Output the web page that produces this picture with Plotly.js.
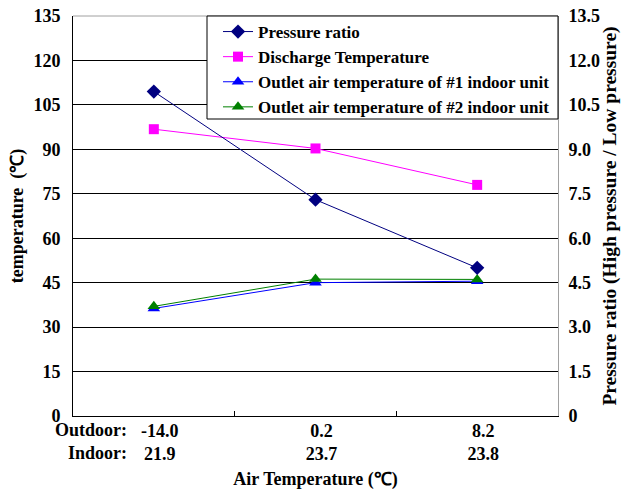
<!DOCTYPE html>
<html>
<head>
<meta charset="utf-8">
<script src="https://cdn.plot.ly/plotly-3.0.1.min.js"></script>
<style>
  html, body { margin: 0; padding: 0; background: #fff; }
  #chart { width: 621px; height: 490px; }
</style>
</head>
<body>
<div id="chart"></div>
<script>
// Test conditions (category axis): outdoor / indoor air temperature
const outdoorTemps = ['-14.0', '0.2', '8.2'];
const indoorTemps = ['21.9', '23.7', '23.8'];
const rowLabels = ['Outdoor:', 'Indoor:'];

// Measured series
const pressureRatio = [10.95, 7.3, 5.0];          // right axis
const dischargeTemp = [96.8, 90.3, 78.0];         // left axis, °C
const outletUnit1 = [36.3, 45.0, 45.5];           // left axis, °C
const outletUnit2 = [37.0, 46.2, 46.1];           // left axis, °C

// Axis ticks
const leftTicks = [0, 15, 30, 45, 60, 75, 90, 105, 120, 135];
const rightTicks = [0, 1.5, 3.0, 4.5, 6.0, 7.5, 9.0, 10.5, 12.0, 13.5];
const rightTickText = ['0', '1.5', '3.0', '4.5', '6.0', '7.5', '9.0', '10.5', '12.0', '13.5'];

const categories = outdoorTemps.map((o, i) => o + '<br>' + indoorTemps[i]);

const serif = 'Liberation Serif, Times New Roman, serif';
const boldFont = (size) => ({ family: serif, size: size, color: '#000', weight: 'bold' });

const traces = [
  {
    name: 'Pressure ratio', x: categories, y: pressureRatio, yaxis: 'y2',
    mode: 'lines+markers', type: 'scatter',
    line: { color: '#000080', width: 1 },
    marker: { symbol: 'diamond', size: 11, color: '#000080' }
  },
  {
    name: 'Discharge Temperature', x: categories, y: dischargeTemp,
    mode: 'lines+markers', type: 'scatter',
    line: { color: '#FF00FF', width: 1 },
    marker: { symbol: 'square', size: 10, color: '#FF00FF' }
  },
  {
    name: 'Outlet air temperature of #1 indoor unit', x: categories, y: outletUnit1,
    mode: 'lines+markers', type: 'scatter',
    line: { color: '#0000FF', width: 1 },
    marker: { symbol: 'triangle-up', size: 11, color: '#0000FF' }
  },
  {
    name: 'Outlet air temperature of #2 indoor unit', x: categories, y: outletUnit2,
    mode: 'lines+markers', type: 'scatter',
    line: { color: '#008000', width: 1 },
    marker: { symbol: 'triangle-up', size: 11, color: '#008000' }
  }
];

const layout = {
  width: 621, height: 490,
  margin: { l: 73, r: 63, t: 16, b: 74 },
  paper_bgcolor: '#fff', plot_bgcolor: '#fff',
  showlegend: true,
  legend: {
    x: 0.299, y: 1.005, xanchor: 'left', yanchor: 'top',
    bgcolor: 'rgba(0,0,0,0)', borderwidth: 0,
    font: boldFont(17), traceorder: 'normal'
  },
  xaxis: {
    type: 'category', range: [-0.5, 2.5],
    tickson: 'boundaries', ticks: 'inside', ticklen: 5, tickcolor: '#000',
    showgrid: false, zeroline: false,
    showline: true, linecolor: '#000', linewidth: 1,
    tickfont: boldFont(18), ticklabelshift: 6, ticklabelstandoff: -2,
    title: { text: 'Air Temperature (℃)', font: boldFont(18), standoff: 18 }
  },
  yaxis: {
    range: [0, 135], tickvals: leftTicks, ticks: '',
    showgrid: true, gridcolor: '#000', gridwidth: 1,
    zeroline: false, showline: true, linecolor: '#000', linewidth: 1,
    tickfont: boldFont(18), ticklabelstandoff: 8,
    title: { text: 'temperature  (℃)', font: boldFont(18), standoff: 5 }
  },
  yaxis2: {
    overlaying: 'y', side: 'right',
    range: [0, 13.5], tickvals: rightTicks, ticktext: rightTickText, ticks: '',
    showgrid: false, zeroline: false,
    showline: true, linecolor: '#a0a0a0', linewidth: 1,
    tickfont: boldFont(18), ticklabelstandoff: 6,
    title: { text: 'Pressure ratio (High pressure / Low pressure)', font: boldFont(19.5), standoff: 11 }
  },
  shapes: [
    // light frame line along the top of the plot area
    { type: 'line', xref: 'paper', yref: 'paper', x0: 0, x1: 1, y0: 1, y1: 1,
      line: { color: '#a0a0a0', width: 1 } },
    // legend frame (white box with a black border in the upper right)
    { type: 'rect', xref: 'paper', yref: 'paper', x0: 0.2763, x1: 1, y0: 0.7425, y1: 1,
      layer: 'above', fillcolor: '#fff', line: { color: '#000', width: 1 } }
  ],
  annotations: [
    // row captions for the two-line category labels
    { text: rowLabels.join('<br>'), xref: 'paper', yref: 'paper', x: 0.113, y: -0.064,
      xanchor: 'right', yanchor: 'middle', align: 'right', borderpad: 0,
      showarrow: false, font: boldFont(18) }
  ]
};

Plotly.newPlot('chart', traces, layout, { displayModeBar: false, staticPlot: true });
</script>
</body>
</html>
